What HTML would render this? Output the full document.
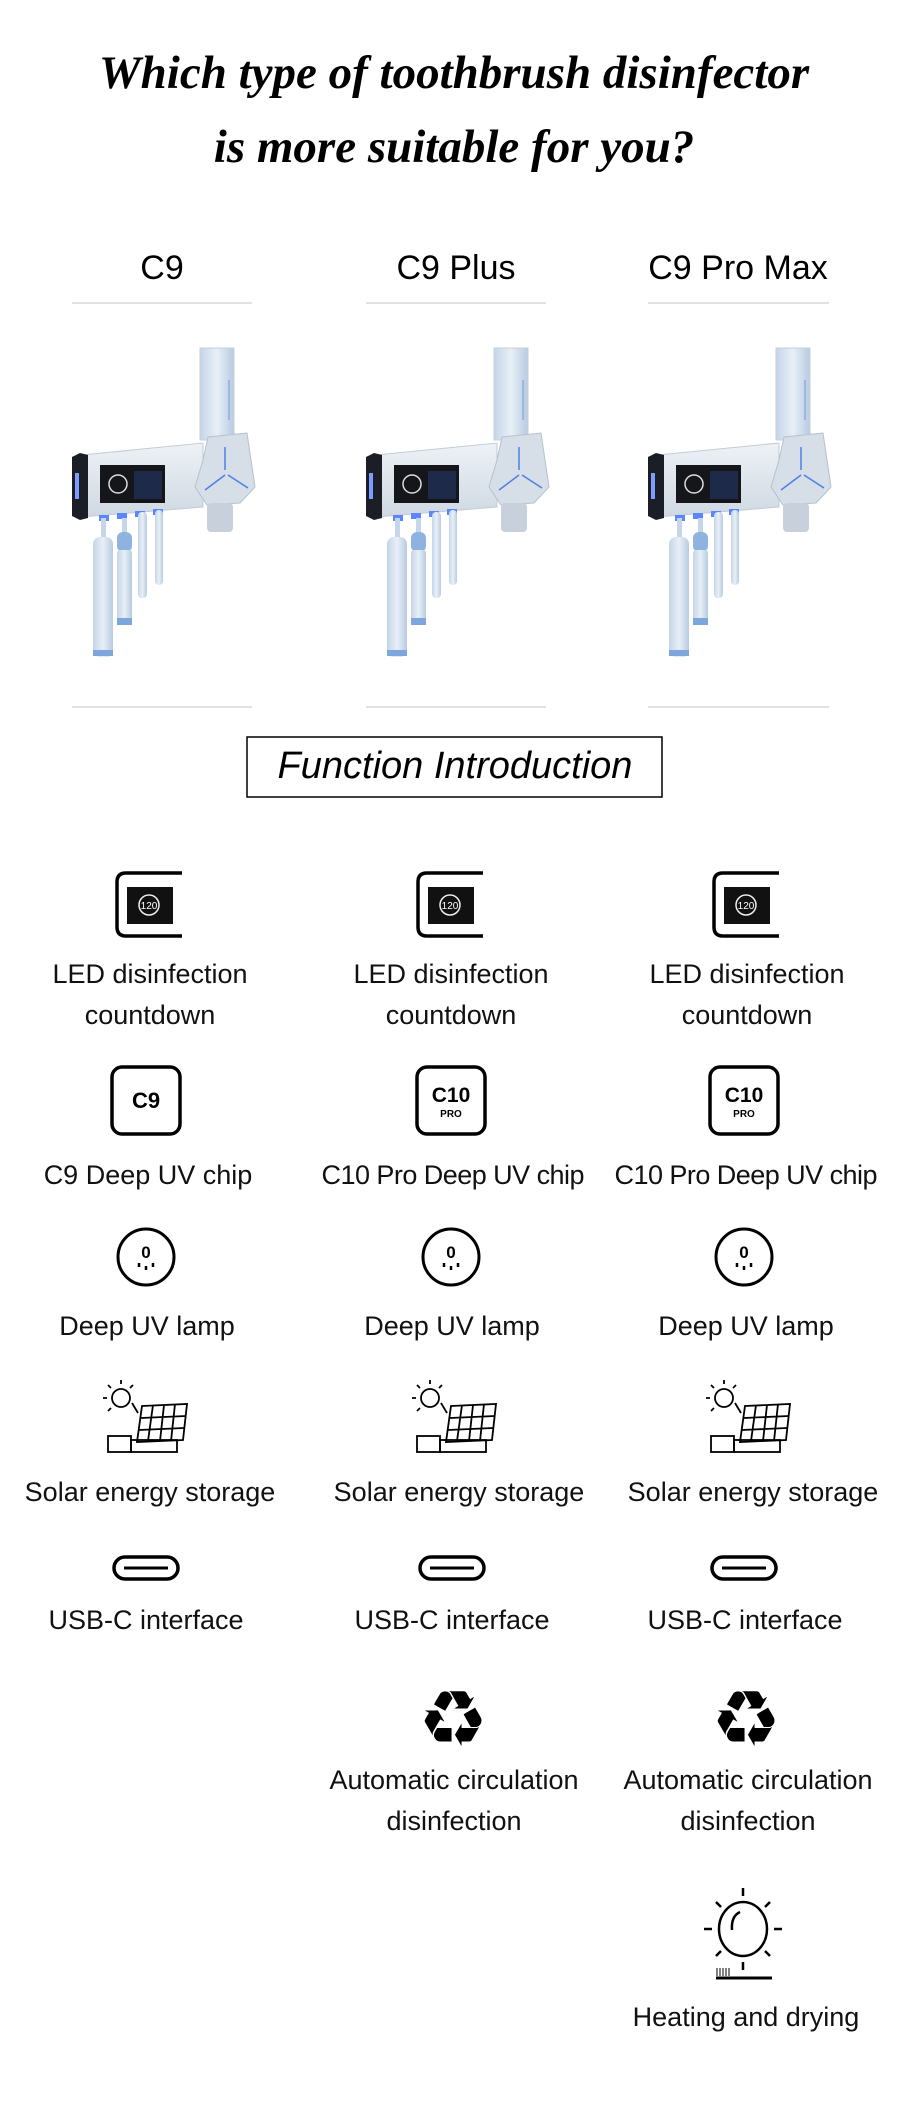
<!DOCTYPE html>
<html><head><meta charset="utf-8"><style>
html,body{margin:0;padding:0;background:#fff;width:900px;height:2104px;overflow:hidden}
svg{display:block}
.t{font-family:"Liberation Serif",serif;font-weight:bold;font-style:italic;font-size:47px;fill:#000}
.h{font-family:"Liberation Sans",sans-serif;font-size:34px;fill:#000}
.l{font-family:"Liberation Sans",sans-serif;font-size:27px;fill:#111}
</style></head><body>
<svg width="900" height="2104" viewBox="0 0 900 2104" xmlns="http://www.w3.org/2000/svg">
<defs>
<linearGradient id="bg" x1="0" y1="0" x2="0" y2="1"><stop offset="0" stop-color="#eef2f6"/><stop offset="1" stop-color="#cfd8e2"/></linearGradient>
<linearGradient id="br" x1="0" y1="0" x2="1" y2="0"><stop offset="0" stop-color="#c4d5e8"/><stop offset=".5" stop-color="#e8eff7"/><stop offset="1" stop-color="#b8cbe0"/></linearGradient>
<g id="dev">
<rect x="200" y="348" width="34" height="92" fill="url(#br)" stroke="#c5cfda"/>
<line x1="229" y1="380" x2="229" y2="420" stroke="#6d9be0" stroke-width="1"/>
<polygon points="82,455 203,443 203,507 82,517" fill="url(#bg)" stroke="#c2ccd6"/>
<polygon points="72,457 80,453 88,455 88,518 80,520 72,516" fill="#1b1d27"/>
<rect x="75" y="473" width="4" height="26" fill="#7a9dff"/>
<rect x="100" y="465" width="65" height="38" fill="#141619"/>
<circle cx="118" cy="484" r="9" fill="none" stroke="#ddd" stroke-width="1.5"/>
<rect x="134" y="471" width="28" height="28" fill="#1e2a4a"/>
<polygon points="208,437 247,433 255,487 240,503 207,505 195,487 203,460" fill="#d6dee7" stroke="#b6c1cc"/>
<path d="M225 447 V470 M225 475 L205 490 M228 475 L248 488" stroke="#4f7fe6" stroke-width="1.5"/>
<rect x="207" y="503" width="26" height="29" rx="4" fill="#c8d1db"/>
<rect x="99" y="515" width="10" height="6" fill="#5b86ff"/>
<rect x="117" y="513" width="10" height="6" fill="#5b86ff"/>
<rect x="135" y="511" width="10" height="6" fill="#5b86ff"/>
<rect x="153" y="509" width="10" height="6" fill="#5b86ff"/>
<rect x="101" y="518" width="5" height="22" fill="#c6d6ea"/>
<rect x="93" y="537" width="20" height="120" rx="7" fill="url(#br)"/>
<rect x="93" y="650" width="20" height="6" fill="#7da7dc"/>
<rect x="122" y="518" width="5" height="16" fill="#c6d6ea"/>
<rect x="117" y="532" width="15" height="20" rx="6" fill="#8fb3e0"/>
<rect x="117" y="550" width="15" height="75" rx="3" fill="url(#br)"/>
<rect x="117" y="618" width="15" height="7" fill="#7da7dc"/>
<rect x="138" y="512" width="9" height="86" rx="4" fill="url(#br)"/>
<rect x="155" y="510" width="8" height="75" rx="4" fill="url(#br)"/>
</g>
<g id="led">
<path d="M182 873 H126 Q117 873 117 882 V927 Q117 936 126 936 H182" fill="none" stroke="#000" stroke-width="3.5"/>
<rect x="127" y="887" width="46" height="37" fill="#111"/>
<circle cx="149" cy="905" r="10" fill="none" stroke="#eee" stroke-width="1.5"/>
<text x="149" y="909" font-family="Liberation Sans" font-size="10" fill="#fff" text-anchor="middle">120</text>
</g>
<g id="lamp">
<circle cx="146" cy="1257" r="28" fill="none" stroke="#000" stroke-width="3"/>
<text x="146" y="1258" font-family="Liberation Sans" font-weight="bold" font-size="17" text-anchor="middle">0</text>
<path d="M139 1263 v4 M146 1266 v4 M153 1263 v4" stroke="#000" stroke-width="2.5"/>
</g>
<g id="solar" fill="none" stroke="#000" stroke-width="1.8">
<circle cx="121" cy="1398" r="9"/>
<path d="M121 1384v-4 M107 1398h-4 M111 1388l-3-3 M111 1408l-3 3 M130 1388l3-3 M132 1403l6 10"/>
<polygon points="142,1406 187,1404 183,1440 137,1442"/>
<path d="M153 1405 L148 1441 M164 1405 L160 1441 M175 1404 L171 1441 M141 1418 L186 1416 M139 1430 L184 1428"/>
<rect x="108" y="1436" width="23" height="16"/>
<rect x="131" y="1440" width="46" height="12"/>
</g>
<g id="usb">
<rect x="114" y="1557" width="64" height="22" rx="11" fill="none" stroke="#000" stroke-width="3.5"/>
<line x1="124" y1="1568" x2="168" y2="1568" stroke="#000" stroke-width="3"/>
</g>
</defs>

<text class="t" x="454" y="88" text-anchor="middle">Which type of toothbrush disinfector</text>
<text class="t" x="454" y="162" text-anchor="middle">is more suitable for you?</text>

<text class="h" x="162" y="279" text-anchor="middle">C9</text>
<text class="h" x="456" y="279" text-anchor="middle">C9 Plus</text>
<text class="h" x="738" y="279" text-anchor="middle">C9 Pro Max</text>
<g stroke="#d8d8d8" stroke-width="1.5">
<line x1="72" y1="303" x2="252" y2="303"/><line x1="366" y1="303" x2="546" y2="303"/><line x1="648" y1="303" x2="829" y2="303"/>
<line x1="72" y1="707" x2="252" y2="707"/><line x1="366" y1="707" x2="546" y2="707"/><line x1="648" y1="707" x2="829" y2="707"/>
</g>
<use href="#dev"/><use href="#dev" transform="translate(294,0)"/><use href="#dev" transform="translate(576,0)"/>

<rect x="247" y="737" width="415" height="60" fill="none" stroke="#000" stroke-width="1.5"/>
<text x="455" y="778" text-anchor="middle" font-family="Liberation Sans" font-style="italic" font-size="38">Function Introduction</text>

<use href="#led"/><use href="#led" transform="translate(301,0)"/><use href="#led" transform="translate(597,0)"/>
<g class="l" text-anchor="middle">
<text x="150" y="983">LED disinfection</text><text x="150" y="1024">countdown</text>
<text x="451" y="983">LED disinfection</text><text x="451" y="1024">countdown</text>
<text x="747" y="983">LED disinfection</text><text x="747" y="1024">countdown</text>
</g>

<g fill="none" stroke="#000" stroke-width="3.5">
<rect x="112" y="1067" width="68" height="67" rx="10"/>
<rect x="417" y="1067" width="68" height="67" rx="10"/>
<rect x="710" y="1067" width="68" height="67" rx="10"/>
</g>
<g font-family="Liberation Sans" font-weight="bold" text-anchor="middle">
<text x="146" y="1108" font-size="22">C9</text>
<text x="451" y="1102" font-size="21">C10</text><text x="451" y="1117" font-size="10">PRO</text>
<text x="744" y="1102" font-size="21">C10</text><text x="744" y="1117" font-size="10">PRO</text>
</g>
<g class="l" text-anchor="middle">
<text x="148" y="1184">C9 Deep UV chip</text>
<text x="453" y="1184" textLength="263">C10 Pro Deep UV chip</text>
<text x="746" y="1184" textLength="263">C10 Pro Deep UV chip</text>
</g>

<use href="#lamp"/><use href="#lamp" transform="translate(305,0)"/><use href="#lamp" transform="translate(598,0)"/>
<g class="l" text-anchor="middle">
<text x="147" y="1335">Deep UV lamp</text><text x="452" y="1335">Deep UV lamp</text><text x="746" y="1335">Deep UV lamp</text>
</g>

<use href="#solar"/><use href="#solar" transform="translate(309,0)"/><use href="#solar" transform="translate(603,0)"/>
<g class="l" text-anchor="middle">
<text x="150" y="1501">Solar energy storage</text><text x="459" y="1501">Solar energy storage</text><text x="753" y="1501">Solar energy storage</text>
</g>

<use href="#usb"/><use href="#usb" transform="translate(306,0)"/><use href="#usb" transform="translate(598,0)"/>
<g class="l" text-anchor="middle">
<text x="146" y="1629">USB-C interface</text><text x="452" y="1629">USB-C interface</text><text x="745" y="1629">USB-C interface</text>
</g>

<g font-family="DejaVu Sans" font-size="78" text-anchor="middle">
<text x="453" y="1746">♻</text><text x="746" y="1746">♻</text>
</g>
<g class="l" text-anchor="middle">
<text x="454" y="1789">Automatic circulation</text><text x="454" y="1830">disinfection</text>
<text x="748" y="1789">Automatic circulation</text><text x="748" y="1830">disinfection</text>
</g>

<g fill="none" stroke="#000" stroke-width="2.5">
<ellipse cx="743" cy="1929" rx="24" ry="27"/>
<path d="M732 1930 Q731 1916 740 1912"/>
<path d="M743 1888v8 M743 1962v8 M704 1929h8 M774 1929h8 M716 1902l5 5 M770 1902l-5 5 M716 1956l5-5 M770 1956l-5-5"/>
<line x1="716" y1="1978" x2="772" y2="1978" stroke-width="3"/>
<path d="M717 1968v8 M720 1968v8 M723 1968v8 M726 1968v8 M729 1968v8" stroke-width="1"/>
</g>
<text class="l" x="746" y="2026" text-anchor="middle">Heating and drying</text>
</svg>
</body></html>
